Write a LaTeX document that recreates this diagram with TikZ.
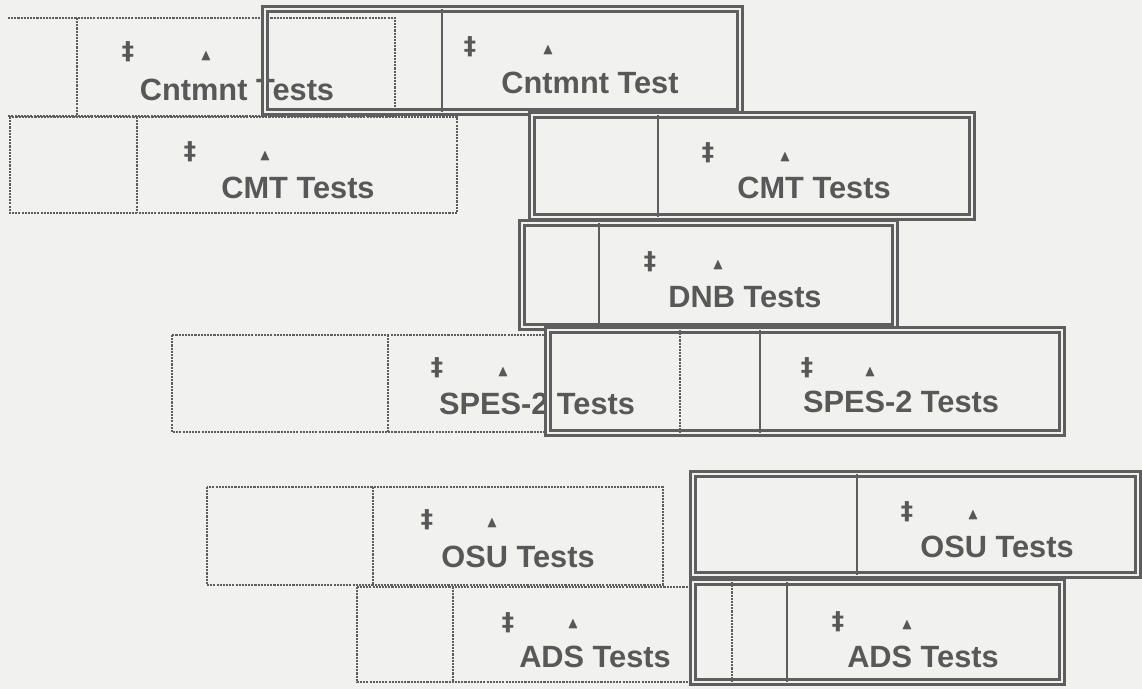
\documentclass[tikz,border=0pt]{standalone}
\usepackage{amssymb}
\usepackage{fontspec}
\setmainfont{Liberation Sans}
\newfontfamily\symfont{DejaVu Sans}
\usepackage{xcolor}
\usepackage{tikz}
\usetikzlibrary{positioning, calc}

\definecolor{paper}{HTML}{F1F1EF}
\definecolor{ink}{HTML}{5E5E5E}
\definecolor{inktext}{HTML}{585858}

\tikzset{
  oldbar/.style={draw=ink, line width=1.3pt, dash pattern=on 1.2pt off 0.6pt},
  newbar/.style={draw=ink, line width=1.3pt, double=paper, double distance=1.5pt},
  newdiv/.style={draw=ink, line width=1.2pt},
  barlbl/.style={text=inktext, font=\fontsize{17.5}{17.5}\selectfont\bfseries, inner sep=0pt, anchor=base},
  ddagsym/.style={text=inktext, font=\symfont\fontsize{14}{14}\selectfont\bfseries, inner sep=0pt},
  trisym/.style={text=inktext, font=\fontsize{9}{9}\selectfont, inner sep=0pt}
}

\begin{document}
\begin{tikzpicture}[x=0.02cm, y=-0.02cm]
\fill[paper] (0,0) rectangle (1142,689);
\useasboundingbox (0,0) rectangle (1142,689);

% Old schedule (dotted bars)
\draw[oldbar] (8,18) -- (395,18) -- (395,116) -- (8,116);
\draw[oldbar] (77,18) -- (77,116);
\foreach \xa/\xb/\xd/\ya/\yb in {10/457/137/117/213, 172/549/388/335/432,
    207/663/373/487/585, 357/693/453/587/682} {
    \draw[oldbar] (\xa,\ya) rectangle (\xb,\yb);
    \draw[oldbar] (\xd,\ya) -- (\xd,\yb);
}
\node[ddagsym] (cntOldD) at (128,52) {‡};
\node[trisym] (cntOldT) at (206,56) {$\blacktriangle$};
\node[barlbl] (cntOld) at (237,101) {Cntmnt Tests};
\node[ddagsym] (cmtOldD) at (190,152) {‡};
\node[trisym] (cmtOldT) at (265,156) {$\blacktriangle$};
\node[barlbl] (cmtOld) at (298,199) {CMT Tests};
\node[ddagsym] (spesOldD) at (437,368) {‡};
\node[trisym] (spesOldT) at (503,372) {$\blacktriangle$};
\node[barlbl] (spesOld) at (537,414) {SPES-2 Tests};
\node[ddagsym] (osuOldD) at (427,520) {‡};
\node[trisym] (osuOldT) at (492,523) {$\blacktriangle$};
\node[barlbl] (osuOld) at (518,567) {OSU Tests};
\node[ddagsym] (adsOldD) at (508,623) {‡};
\node[trisym] (adsOldT) at (573,624) {$\blacktriangle$};
\node[barlbl] (adsOld) at (595,667) {ADS Tests};

% New schedule (double bars)
\foreach \xa/\xb/\xd/\ya/\yb in {265/740/442/9/112, 532/972/658/115/217,
    522/895/599/223/327, 548/1062/760/330/433, 693/1138/857/474/575,
    693/1062/787/582/682} {
    \draw[newbar] (\xa,\ya) rectangle (\xb,\yb);
    \draw[newdiv] (\xd,\ya) -- (\xd,\yb);
}
\draw[oldbar] (680,330) -- (680,433);
\draw[oldbar] (732,582) -- (732,682);
\node[ddagsym] (cntNewD) at (470,47) {‡};
\node[trisym] (cntNewT) at (548,50) {$\blacktriangle$};
\node[barlbl] (cntNew) at (590,94) {Cntmnt Test};
\node[ddagsym] (cmtNewD) at (708,153) {‡};
\node[trisym] (cmtNewT) at (785,157) {$\blacktriangle$};
\node[barlbl] (cmtNew) at (814,199) {CMT Tests};
\node[ddagsym] (dnbNewD) at (650,262) {‡};
\node[trisym] (dnbNewT) at (718,265) {$\blacktriangle$};
\node[barlbl] (dnbNew) at (745,307) {DNB Tests};
\node[ddagsym] (spesNewD) at (807,368) {‡};
\node[trisym] (spesNewT) at (870,372) {$\blacktriangle$};
\node[barlbl] (spesNew) at (901,412) {SPES-2 Tests};
\node[ddagsym] (osuNewD) at (907,512) {‡};
\node[trisym] (osuNewT) at (973,515) {$\blacktriangle$};
\node[barlbl] (osuNew) at (997,557) {OSU Tests};
\node[ddagsym] (adsNewD) at (838,622) {‡};
\node[trisym] (adsNewT) at (907,625) {$\blacktriangle$};
\node[barlbl] (adsNew) at (923,667) {ADS Tests};

\end{tikzpicture}
\end{document}
